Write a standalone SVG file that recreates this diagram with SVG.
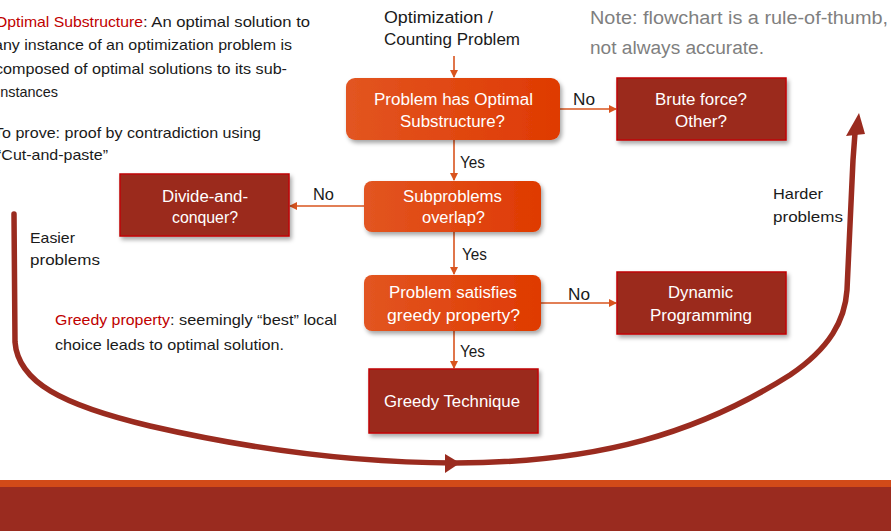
<svg xmlns="http://www.w3.org/2000/svg" width="891" height="531" viewBox="0 0 891 531">
<defs>
<style>
.t{font-family:"Liberation Sans",Arial,sans-serif;fill:#1a1a1a}
.s15{font-size:15px}
.s16{font-size:16px}
.w{fill:#ffffff;font-size:16px}
.red{fill:#C00000}
.gray{fill:#7f7f7f;font-size:18px}
.dec{fill:url(#og);filter:url(#sh)}
.term{fill:#9B2B1F;stroke:#C00000;stroke-width:1.5;filter:url(#sh)}
.con{stroke:#D9541E;stroke-width:1.6;fill:none;marker-end:url(#ah)}
</style>
<linearGradient id="og" x1="0" y1="0" x2="1" y2="0">
<stop offset="0" stop-color="#E25521"/>
<stop offset="1" stop-color="#DF3A02"/>
</linearGradient>
<filter id="sh" x="-10%" y="-10%" width="125%" height="135%">
<feDropShadow dx="2" dy="3" stdDeviation="2" flood-color="#000" flood-opacity="0.35"/>
</filter>
<marker id="ah" markerWidth="8" markerHeight="8" refX="7" refY="4" orient="auto" markerUnits="userSpaceOnUse">
<path d="M0,0 L8,4 L0,8 Z" fill="#D9541E"/>
</marker>
</defs>
<rect width="891" height="531" fill="#ffffff"/>

<!-- bottom band -->
<rect x="0" y="480" width="891" height="7" fill="#D24A18"/>
<rect x="0" y="487" width="891" height="44" fill="#9A2B1F"/>

<!-- notes -->
<g id="note-optimal">
<text class="t s15 red" x="-5" y="27" textLength="148" lengthAdjust="spacingAndGlyphs">Optimal Substructure</text>
<text class="t s15" x="143" y="27" textLength="167" lengthAdjust="spacingAndGlyphs">: An optimal solution to</text>
<text class="t s15" x="-6" y="50" textLength="298" lengthAdjust="spacingAndGlyphs">any instance of an optimization problem is</text>
<text class="t s15" x="-5" y="74" textLength="292" lengthAdjust="spacingAndGlyphs">composed of optimal solutions to its sub-</text>
<text class="t s15" x="-3" y="97" textLength="61" lengthAdjust="spacingAndGlyphs">instances</text>
<text class="t s15" x="-6" y="138" textLength="267" lengthAdjust="spacingAndGlyphs">To prove: proof by contradiction using</text>
<text class="t s15" x="-4" y="160" textLength="112" lengthAdjust="spacingAndGlyphs">“Cut-and-paste”</text>
</g>
<g id="note-rule">
<text class="t gray" x="590" y="24" textLength="298" lengthAdjust="spacingAndGlyphs">Note: flowchart is a rule-of-thumb,</text>
<text class="t gray" x="590" y="54" textLength="174" lengthAdjust="spacingAndGlyphs">not always accurate.</text>
</g>
<g id="note-greedy">
<text class="t s15 red" x="55" y="325" textLength="115" lengthAdjust="spacingAndGlyphs">Greedy property</text>
<text class="t s15" x="170" y="325" textLength="167" lengthAdjust="spacingAndGlyphs">: seemingly “best” local</text>
<text class="t s15" x="55" y="350" textLength="229" lengthAdjust="spacingAndGlyphs">choice leads to optimal solution.</text>
</g>
<g id="label-easier">
<text class="t s15" x="30" y="243" textLength="45" lengthAdjust="spacingAndGlyphs">Easier</text>
<text class="t s15" x="30" y="265" textLength="70" lengthAdjust="spacingAndGlyphs">problems</text>
</g>
<g id="label-harder">
<text class="t s15" x="773" y="199" textLength="50" lengthAdjust="spacingAndGlyphs">Harder</text>
<text class="t s15" x="773" y="222" textLength="70" lengthAdjust="spacingAndGlyphs">problems</text>
</g>

<!-- start -->
<g id="start">
<text class="t s16" x="384" y="23" textLength="109" lengthAdjust="spacingAndGlyphs">Optimization /</text>
<text class="t s16" x="384" y="45" textLength="136" lengthAdjust="spacingAndGlyphs">Counting Problem</text>
</g>

<!-- connectors -->
<g id="connectors">
<line class="con" x1="454" y1="56" x2="454" y2="77"/>
<line class="con" x1="454" y1="140" x2="454" y2="180"/>
<line class="con" x1="560" y1="109" x2="616" y2="109"/>
<line class="con" x1="364" y1="206" x2="290" y2="206"/>
<line class="con" x1="454" y1="232" x2="454" y2="274"/>
<line class="con" x1="541" y1="303" x2="616" y2="303"/>
<line class="con" x1="454" y1="331" x2="454" y2="368"/>
<text class="t s16" x="460" y="168" textLength="25" lengthAdjust="spacingAndGlyphs">Yes</text>
<text class="t s16" x="573" y="105" textLength="22" lengthAdjust="spacingAndGlyphs">No</text>
<text class="t s16" x="313" y="200" textLength="21" lengthAdjust="spacingAndGlyphs">No</text>
<text class="t s16" x="462" y="260" textLength="25" lengthAdjust="spacingAndGlyphs">Yes</text>
<text class="t s16" x="568" y="300" textLength="22" lengthAdjust="spacingAndGlyphs">No</text>
<text class="t s16" x="460" y="357" textLength="25" lengthAdjust="spacingAndGlyphs">Yes</text>
<!-- big curve -->
<path d="M14,214 L15,342 C18,382 62,405 150,426 C250,449 350,463 455,463 C600,463 700,432 790,375 C830,348 845,320 847,290 L853,160 L855,133" fill="none" stroke="#9A2B1F" stroke-width="5.5" stroke-linecap="round"/>
<polygon points="460,463 445,454 445,473" fill="#9A2B1F"/>
<polygon points="859,113 846,136 865,134" fill="#9A2B1F"/>
</g>

<!-- nodes -->
<g id="n-optsub">
<rect class="dec" x="346" y="78" width="214" height="62" rx="9"/>
<text class="t w" x="374" y="105" textLength="159" lengthAdjust="spacingAndGlyphs">Problem has Optimal</text>
<text class="t w" x="400" y="127" textLength="105" lengthAdjust="spacingAndGlyphs">Substructure?</text>
</g>
<g id="n-brute">
<rect class="term" x="617" y="78" width="169" height="62"/>
<text class="t w" x="655" y="105" textLength="92" lengthAdjust="spacingAndGlyphs">Brute force?</text>
<text class="t w" x="675" y="127" textLength="52" lengthAdjust="spacingAndGlyphs">Other?</text>
</g>
<g id="n-overlap">
<rect class="dec" x="364" y="181" width="177" height="51" rx="8"/>
<text class="t w" x="403" y="202" textLength="99" lengthAdjust="spacingAndGlyphs">Subproblems</text>
<text class="t w" x="422" y="223" textLength="63" lengthAdjust="spacingAndGlyphs">overlap?</text>
</g>
<g id="n-divide">
<rect class="term" x="120" y="174" width="169" height="62"/>
<text class="t w" x="162" y="202" textLength="86" lengthAdjust="spacingAndGlyphs">Divide-and-</text>
<text class="t w" x="172" y="223" textLength="66" lengthAdjust="spacingAndGlyphs">conquer?</text>
</g>
<g id="n-greedyq">
<rect class="dec" x="364" y="275" width="177" height="56" rx="8"/>
<text class="t w" x="389" y="298" textLength="128" lengthAdjust="spacingAndGlyphs">Problem satisfies</text>
<text class="t w" x="387" y="321" textLength="133" lengthAdjust="spacingAndGlyphs">greedy property?</text>
</g>
<g id="n-dp">
<rect class="term" x="617" y="272" width="169" height="62"/>
<text class="t w" x="668" y="298" textLength="65" lengthAdjust="spacingAndGlyphs">Dynamic</text>
<text class="t w" x="650" y="321" textLength="102" lengthAdjust="spacingAndGlyphs">Programming</text>
</g>
<g id="n-greedy">
<rect class="term" x="369" y="369" width="169" height="64"/>
<text class="t w" x="384" y="407" textLength="136" lengthAdjust="spacingAndGlyphs">Greedy Technique</text>
</g>
</svg>
